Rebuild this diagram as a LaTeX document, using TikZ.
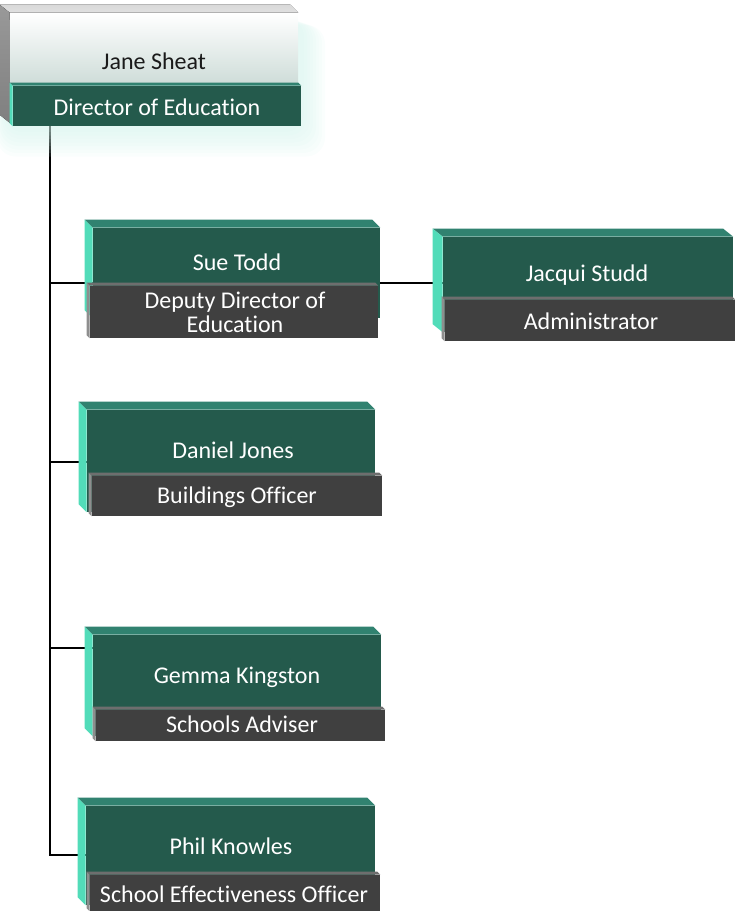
\documentclass[tikz,border=0pt]{standalone}
\usepackage{fontspec}
\setmainfont{Carlito}[Ligatures=NoCommon]
\usetikzlibrary{fit,backgrounds}
\definecolor{facegreen}{HTML}{245A4C}
\definecolor{topgreen}{HTML}{318270}
\definecolor{sideteal}{HTML}{52DCB9}
\definecolor{bargrey}{HTML}{404040}
\definecolor{bartop}{HTML}{6E6E6E}
\definecolor{barside}{HTML}{8E8E8E}
\definecolor{glowc}{HTML}{D2F3EC}
\definecolor{janebottom}{HTML}{CFDDD9}
\definecolor{janetext}{HTML}{1A1A1A}
\tikzset{
	facebox/.style={fill=facegreen,inner sep=0pt},
	barbox/.style={fill=bargrey,inner sep=0pt},
	persontext/.style={text=white,inner sep=0pt,align=center,font=\fontsize{18}{17.8}\selectfont},
	bevtop/.style={fill=topgreen},
	bevleft/.style={fill=sideteal},
	bartopstrip/.style={fill=bartop},
	barsidestrip/.style={fill=barside},
	link/.style={line width=1.5pt,black}
}
\begin{document}
\begin{tikzpicture}[line cap=round,line join=round,x=0.75pt,y=-0.75pt,scale=1]
		\useasboundingbox (0,0) rectangle (735,911);
		% glow round the director box
		\foreach \g in {0,...,7}
			\fill[glowc,opacity=0.1,rounded corners=14pt] (4-\g,18+\g) rectangle (304+3*\g,132+3.5*\g);
		% director
		\node[fit={(10,13) (298,83)},inner sep=0pt,top color=white,bottom color=janebottom] (jane) {};
		\fill[top color=white!85!black,bottom color=white!88!black] (jane.north west) -- ++(-10,-8) -- ([shift={(-8,-8)}]jane.north east) -- (jane.north east) -- cycle;
		\fill[top color=white!60!black,bottom color=white!50!black] (jane.north west) -- ++(-10,-8) -- (0,115) -- (10,123) -- cycle;
		\node[persontext,text=janetext] (janename) at (154,61) {Jane Sheat};
		\node[facebox,fit={(13,86) (301,126)}] (janebar) {};
		\fill[bevtop] (janebar.north west) -- ++(-3,-3) -- ([shift={(-3,-3)}]janebar.north east) -- (janebar.north east) -- cycle;
		\fill[bevleft] (janebar.north west) -- ++(-3,-3) -- ([shift={(-3,-3)}]janebar.south west) -- (janebar.south west) -- cycle;
		\node[persontext] (janetitle) at (157,107) {Director of Education};
		% staff boxes
		\node[facebox,fit={(93,228) (380,318)}] (sue) {};
		\node[facebox,fit={(443,237) (733,332)}] (jacqui) {};
		\node[facebox,fit={(87,410) (375,512)}] (daniel) {};
		\node[facebox,fit={(93,635) (381,736)}] (gemma) {};
		\node[facebox,fit={(86,806) (375,905)}] (phil) {};
		\foreach \n/\d in {sue/8,jacqui/10,daniel/8,gemma/8,phil/8}{
			\fill[bevtop] (\n.north west) -- ++(-\d,-8) -- ([shift={(-\d,-8)}]\n.north east) -- (\n.north east) -- cycle;
			\fill[bevleft] (\n.north west) -- ++(-\d,-8) -- ([shift={(-\d,-8)}]\n.south west) -- (\n.south west) -- cycle;
		}
		\node[persontext] (suename) at (237,262) {Sue Todd};
		\node[persontext] (jacquiname) at (587,275) {Jacqui Studd};
		\node[persontext] (danielname) at (233,450) {Daniel Jones};
		\node[persontext] (gemmaname) at (237,677) {Gemma Kingston};
		\node[persontext] (philname) at (231,846) {Phil Knowles};
		% job titles
		\node[barbox,fit={(90,286) (378,338)}] (suebar) {};
		\node[barbox,fit={(445,300) (735,341)}] (jacquibar) {};
		\node[barbox,fit={(92,476) (382,516)}] (danielbar) {};
		\node[barbox,fit={(96,710) (385,741)}] (gemmabar) {};
		\node[barbox,fit={(90,875) (380,911)}] (philbar) {};
		\foreach \n in {suebar,jacquibar,danielbar,gemmabar,philbar}{
			\fill[bartopstrip] (\n.north west) -- ++(-3,-3) -- ([shift={(-3,-3)}]\n.north east) -- (\n.north east) -- cycle;
			\fill[barsidestrip] (\n.north west) -- ++(-3,-3) -- ([shift={(-3,-3)}]\n.south west) -- (\n.south west) -- cycle;
		}
		\node[persontext] (suetitle) at (235,312) {Deputy Director of\\Education};
		\node[persontext] (jacquititle) at (591,321) {Administrator};
		\node[persontext] (danieltitle) at (237,497) {Buildings Officer};
		\node[persontext] (gemmatitle) at (242,724) {Schools Adviser};
		\node[persontext] (philtitle) at (234,894) {School Effectiveness Officer};
		% reporting lines
		\begin{scope}[on background layer]
			\coordinate (trunktop) at (50,126);
			\coordinate (jsue) at (50,283);
			\coordinate (jdaniel) at (50,462);
			\coordinate (jgemma) at (50,648);
			\coordinate (jphil) at (50,855);
			\draw[link] (trunktop) -- (jphil) -- (phil.west |- jphil);
			\draw[link] (jsue) -- (sue.west |- jsue);
			\draw[link] (sue.east |- jsue) -- (jacqui.west |- jsue);
			\draw[link] (jdaniel) -- (daniel.west |- jdaniel);
			\draw[link] (jgemma) -- (gemma.west |- jgemma);
		\end{scope}
		\end{tikzpicture}
\end{document}
